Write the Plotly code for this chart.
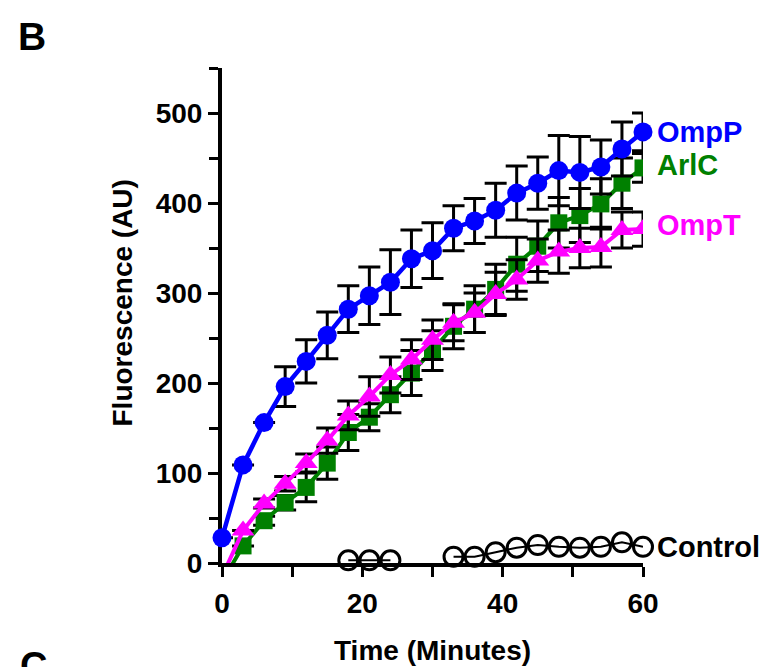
import plotly.graph_objects as go

# ---- data ----
time_min = [0, 3, 6, 9, 12, 15, 18, 21, 24, 27, 30, 33, 36, 39, 42, 45, 48, 51, 54, 57, 60]

ompp = [28, 109, 156, 196, 224, 253, 282, 297, 312, 338, 347, 372, 380, 392, 411, 422, 436, 434, 440, 460, 479]
ompp_err = [0, 0, 0, 22, 24, 26, 26, 32, 36, 32, 31, 25, 25, 30, 30, 29, 39, 40, 30, 30, 21]

arlc = [-21, 19, 47, 67, 84, 111, 145, 162, 187, 211, 236, 263, 282, 304, 332, 352, 378, 386, 399, 422, 439]
arlc_err = [0, 0, 5, 8, 16, 18, 20, 15, 20, 25, 22, 25, 26, 28, 30, 28, 28, 30, 28, 28, 16]

ompt = [-15, 36, 66, 88, 111, 136, 164, 185, 209, 226, 248, 267, 278, 299, 315, 336, 346, 350, 351, 370, 371]
ompt_err = [0, 0, 5, 8, 10, 14, 16, 22, 20, 22, 22, 20, 22, 24, 22, 24, 24, 22, 22, 20, 19]

control = [None, None, None, None, None, None, 3, 3, 3, None, None, 7, 7, 12, 17, 20, 18, 17, 18, 23, 18]

series_names = ["OmpP", "ArlC", "OmpT", "Control"]
series_colors = ["#0000FF", "#008000", "#FF00FF", "#000000"]

y_ticks = [0, 100, 200, 300, 400, 500]
x_ticks = [0, 20, 40, 60]

FONT = "Liberation Sans"

fig = go.Figure()

# Control
fig.add_trace(go.Scatter(
    x=time_min, y=control, mode="lines+markers", name=series_names[3],
    line=dict(color=series_colors[3], width=2),
    marker=dict(symbol="circle-open", size=19, color=series_colors[3], line=dict(width=3)),
    cliponaxis=False, connectgaps=False,
))

# ArlC
fig.add_trace(go.Scatter(
    x=time_min, y=arlc, mode="lines+markers", name=series_names[1],
    line=dict(color=series_colors[1], width=4),
    marker=dict(symbol="square", size=17, color=series_colors[1]),
    error_y=dict(type="data", array=arlc_err, color="black", thickness=3, width=11),
    cliponaxis=True,
))

# OmpT
fig.add_trace(go.Scatter(
    x=time_min, y=ompt, mode="lines+markers", name=series_names[2],
    line=dict(color=series_colors[2], width=4),
    marker=dict(symbol="triangle-up", size=20, color=series_colors[2]),
    error_y=dict(type="data", array=ompt_err, color="black", thickness=3, width=11),
    cliponaxis=True,
))

# OmpP
fig.add_trace(go.Scatter(
    x=time_min, y=ompp, mode="lines+markers", name=series_names[0],
    line=dict(color=series_colors[0], width=4.5),
    marker=dict(symbol="circle", size=19, color=series_colors[0]),
    error_y=dict(type="data", array=ompp_err, color="black", thickness=3, width=11),
    cliponaxis=False,
))

# End-of-line labels
last_vals = [ompp[-1], arlc[-1] + 3, ompt[-1] + 5, control[-1]]
for name, col, yv in zip(series_names, series_colors, last_vals):
    fig.add_annotation(
        x=time_min[-1], y=yv, xref="x", yref="y", text=name, showarrow=False,
        xanchor="left", yanchor="middle", xshift=12,
        font=dict(family=FONT, size=29, color=col, weight="bold"),
    )

# Axis titles and panel letters
fig.add_annotation(
    text="Fluorescence (AU)", xref="paper", yref="paper", x=0, y=0.5, xanchor="center",
    yanchor="middle", xshift=-100, yshift=12, textangle=-90, showarrow=False,
    font=dict(family=FONT, size=28, color="black", weight="bold"),
)
fig.add_annotation(
    text="Time (Minutes)", xref="paper", yref="paper", x=0.5, y=0, xanchor="center",
    yanchor="middle", yshift=-87, showarrow=False,
    font=dict(family=FONT, size=28, color="black", weight="bold"),
)
fig.add_annotation(
    text="B", xref="paper", yref="paper", x=0, y=1, xanchor="center", yanchor="middle",
    xshift=-190, yshift=32, showarrow=False,
    font=dict(family=FONT, size=39, color="black", weight="bold"),
)
fig.add_annotation(
    text="C", xref="paper", yref="paper", x=0, y=0, xanchor="center", yanchor="top",
    xshift=-189, yshift=-80, showarrow=False,
    font=dict(family=FONT, size=38, color="black", weight="bold"),
)

axis_common = dict(
    showgrid=False, zeroline=False, showline=True, linecolor="black", linewidth=4,
    ticks="outside", ticklen=10, tickwidth=3, tickcolor="black",
    tickfont=dict(family=FONT, size=28, color="black", weight="bold"),
    layer="below traces",
)

# the page body adds an 8px offset, so the margins are trimmed on the top/left
fig.update_layout(
    width=769, height=667,
    margin=dict(l=214, r=134, t=60, b=112),
    paper_bgcolor="white", plot_bgcolor="white",
    showlegend=False,
    xaxis=dict(range=[0, 60], tickvals=x_ticks, ticklabelstandoff=2,
               minor=dict(dtick=10, ticks="outside", ticklen=10, tickwidth=3, tickcolor="black"),
               **axis_common),
    yaxis=dict(range=[0, 550], tickvals=y_ticks, ticklabelstandoff=0,
               minor=dict(dtick=50, ticks="outside", ticklen=9, tickwidth=3, tickcolor="black"),
               **axis_common),
)

fig.write_html("out.html")
